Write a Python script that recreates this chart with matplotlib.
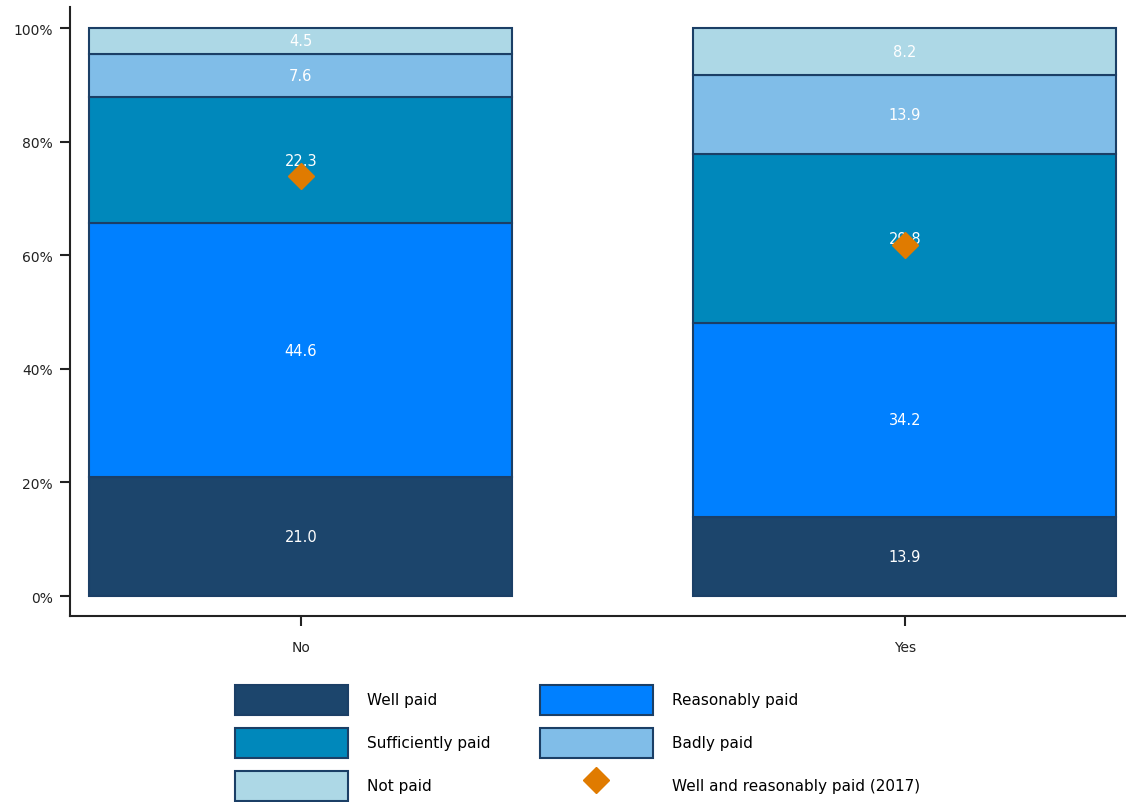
import matplotlib
matplotlib.use("Agg")
import matplotlib.pyplot as plt
from matplotlib.patches import Patch
from matplotlib.lines import Line2D

# Data

groups = ["No", "Yes"]
categories = ["Well paid", "Reasonably paid", "Sufficiently paid",
              "Badly paid", "Not paid"]
values = {
    "Well paid":         [21.0, 13.9],
    "Reasonably paid":   [44.6, 34.2],
    "Sufficiently paid": [22.3, 29.8],
    "Badly paid":        [7.6, 13.9],
    "Not paid":          [4.5, 8.2],
}
well_reasonably_2017 = [73.9, 61.8]
marker_label = "Well and reasonably paid (2017)"

colors = {
    "Well paid":         "#1c456c",
    "Reasonably paid":   "#0080ff",
    "Sufficiently paid": "#0088bb",
    "Badly paid":        "#80bde8",
    "Not paid":          "#add8e6",
}
edge = "#1b3f66"

plt.rcParams["font.family"] = ["DejaVu Sans"]

fig = plt.figure(figsize=(11.26, 8.03), dpi=100)
ax = fig.add_axes([0.0622, 0.2316, 0.9378, 0.7584])

x = list(range(len(groups)))
bottom = [0.0] * len(groups)
for cat in categories:
    vals = values[cat]
    ax.bar(x, vals, width=0.7, bottom=bottom, color=colors[cat],
           edgecolor=edge, linewidth=1.5, label=cat)
    for xi, b, v in zip(x, bottom, vals):
        ax.text(xi, b + v / 2, f"{v:.1f}", ha="center", va="center",
                color="white", fontsize=10.5)
    bottom = [b + v for b, v in zip(bottom, vals)]

ax.plot(x, well_reasonably_2017, linestyle="none", marker="D",
        markersize=13, color="#e07b00", zorder=5)

ax.set_xlim(-0.382, 1.366)
ax.set_ylim(-3.52, 103.7)
ax.set_xticks(x)
ax.set_xticklabels(groups, fontsize=10)
ax.set_yticks(range(0, 101, 20))
ax.set_yticklabels([f"{t}%" for t in range(0, 101, 20)], fontsize=10)
ax.tick_params(length=7.5, width=1.5, colors="#222222")
ax.tick_params(axis="x", pad=10)
ax.tick_params(axis="y", pad=5)
for s in ["top", "right"]:
    ax.spines[s].set_visible(False)
for s in ["left", "bottom"]:
    ax.spines[s].set_linewidth(1.5)
    ax.spines[s].set_color("#222222")

# Legend (row-wise order, two columns)

handles = [Patch(facecolor=colors[c], edgecolor=edge, linewidth=1.5)
           for c in categories]
diamond = Line2D([], [], linestyle="none", marker="D", markersize=13,
                 color="#e07b00")
order_h = [handles[0], handles[2], handles[4], handles[1], handles[3], diamond]
order_l = [categories[0], categories[2], categories[4],
           categories[1], categories[3], marker_label]
fig.legend(order_h, order_l, ncol=2, loc="center",
           bbox_to_anchor=(0.513, 0.074), frameon=False, fontsize=11,
           handlelength=7.4, handleheight=2.64, handletextpad=1.24,
           columnspacing=3.2, labelspacing=0.85)

fig.savefig("out.png", dpi=100)
